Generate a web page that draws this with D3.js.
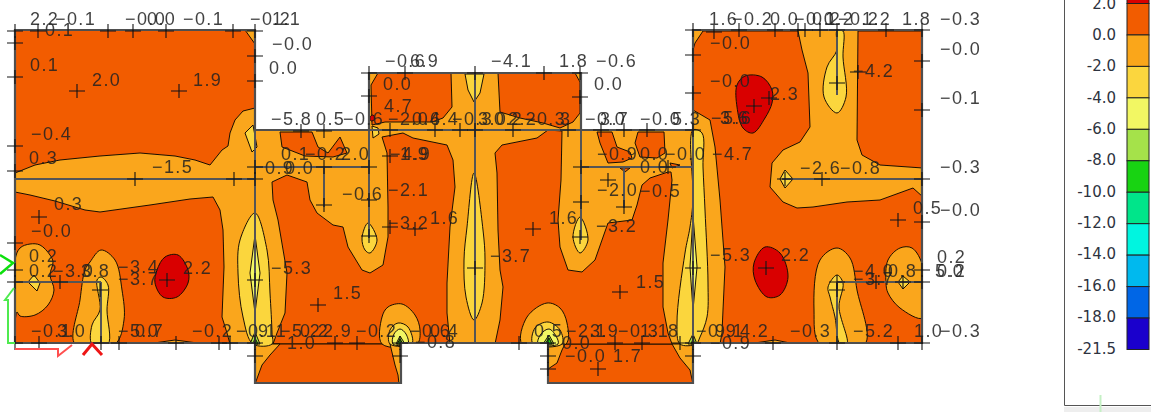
<!DOCTYPE html>
<html><head><meta charset="utf-8">
<script src="https://cdn.jsdelivr.net/npm/d3@7/dist/d3.min.js"></script>
<style>html,body{margin:0;padding:0;background:#fff;overflow:hidden}svg{display:block}</style>
</head><body><svg id="c" width="1151" height="412"></svg>
<script>
const legendLabels=["2.0","0.0","-2.0","-4.0","-6.0","-8.0","-10.0","-12.0","-14.0","-16.0","-18.0","-21.5"];
const legendColors=["#f25c00","#faa61a","#fbd63e","#f2f763","#a5e24a","#18d312","#00e58a","#00f5e0","#00b9ee","#0066e6","#1a00cc"];
const cRed="#d90000",cHigh="#f25c00",cBase="#faa61a",cYel="#fbd63e",cPale="#f2f763",cLime="#a5e24a",cGreen="#18d312";

const slabOutline=[[15,30],[255,30],[255,130],[369,130],[369,73],[581,73],[581,130],[693,130],[693,30],[922,30],[922,343],[693,343],[693,383],[548,383],[548,343],[401,343],[401,383],[255,383],[255,343],[15,343]];

const highLeftTop=[[15,30],[245,30],[255,44],[255,108],[243,111],[235,120],[230,133],[228,146],[222,150],[210,165],[195,160],[175,156],[140,153],[100,156],[60,160],[35,165],[15,173]];
const highLeftLow=[[15,192],[30,195],[55,201],[85,210],[100,212],[150,205],[190,199],[213,197],[220,210],[223,230],[224,267],[222,317],[227,333],[230,344],[15,344]];
const highCenterLeft=[[272,182],[287,175],[307,182],[310,200],[317,213],[333,225],[343,227],[348,247],[362,270],[370,273],[383,265],[388,237],[388,207],[387,153],[382,137],[403,133],[413,138],[447,145],[453,160],[455,187],[450,227],[447,283],[447,313],[450,344],[273,344],[277,333],[285,313],[287,273],[278,220],[273,200]];
const highStubLeft=[[255,344],[401,344],[401,384],[255,384]];
const highStubRight=[[548,344],[693,344],[693,384],[548,384]];
const highCenterRight=[[495,153],[502,145],[537,138],[548,130],[562,131],[561,180],[558,220],[560,247],[568,270],[582,272],[595,260],[602,240],[608,223],[632,220],[637,205],[642,185],[650,178],[668,172],[671,172],[672,180],[668,220],[663,263],[663,307],[668,333],[672,344],[495,344],[500,320],[503,287],[500,270],[498,230],[497,173]];
const highCTopLeft=[[378,73],[451,73],[452,107],[443,118],[432,122],[410,122],[385,122],[372,125],[371,85]];
const highCTopRight=[[498,73],[575,73],[580,82],[580,113],[573,122],[560,128],[543,123],[520,118],[500,112]];
const highTopLeftPatch=[[280,132],[312,132],[318,147],[328,153],[340,137],[347,153],[333,157],[305,156],[282,147]];
const highTopRightPatch1=[[597,132],[612,132],[617,147],[630,152],[632,158],[623,162],[608,163],[600,143]];
const highTopRightPatch2=[[638,132],[664,132],[665,153],[657,158],[640,157],[635,143]];
const highSmallA=[[620,168],[625,172],[630,168]];
const highSmallB=[[670,163],[680,165],[672,168]];
const highRightLeft=[[695,43],[703,31],[798,31],[802,50],[808,73],[810,127],[800,142],[783,150],[772,163],[770,187],[783,202],[797,208],[813,207],[847,202],[880,200],[913,188],[923,197],[923,344],[720,344],[722,333],[723,310],[725,267],[720,200],[715,147],[710,120],[693,110],[693,50]];
const highRightTop=[[858,31],[857,140],[862,155],[880,165],[923,168],[923,31]];

const baseLeftIsland1=[[15,260],[20,248],[30,244],[40,245],[50,255],[53,262],[50,275],[54,290],[48,305],[35,315],[20,316],[17,312],[15,320]];
const baseLeftIsland2=[[75,344],[80,300],[85,270],[90,262],[101,250],[115,260],[122,290],[124,320],[115,344]];
const baseBottomSliverA=[[147,344],[175,340],[205,344]];
const baseBottomSliverB=[[748,344],[775,340],[795,344]];
const baseBumpLeft=[[382,344],[382,317],[388,307],[402,304],[415,315],[420,330],[417,344]];
const baseBumpRight=[[522,344],[527,317],[547,303],[560,308],[567,323],[566,344]];
const baseWedgeA=[[390,344],[395,365],[398,375],[399,384],[401,384],[401,344]];
const baseWedgeB=[[255,384],[262,365],[270,355],[280,344],[255,344]];
const baseWedgeC=[[548,344],[565,344],[562,350],[557,363],[548,369]];
const baseWedgeD=[[672,344],[680,358],[690,370],[693,384],[693,344]];
const baseRightIsland1=[[820,344],[814,310],[820,260],[837,248],[850,258],[857,290],[865,344]];
const baseRightIsland2=[[886,283],[888,260],[900,248],[912,248],[923,267],[923,318],[900,308],[888,293]];

const redLeft=[[157,270],[165,257],[178,255],[188,270],[188,283],[177,297],[163,297],[155,283]];
const redUp=[[737,85],[745,76],[762,77],[772,90],[772,103],[765,118],[753,133],[743,128],[737,107]];
const redDown=[[754,263],[765,247],[780,253],[788,277],[780,295],[767,297],[755,280]];
const redSpot=[[370,117],[373,115],[375,119],[371,121]];

const yelDiamondL=[[28,282],[34,275],[40,283],[37,291]];
const yelLeft=[[97,280],[101,277],[108,285],[107,310],[108,344],[92,344],[92,325],[100,310]];
const yelLens255=[[255,213],[240,240],[238,273],[243,317],[253,344],[272,344],[272,333],[270,293],[267,250]];
const yelCorner255=[[245,133],[253,125],[257,147],[252,152]];
const yel369=[[368,223],[362,238],[365,250],[370,253],[377,240]];
const yel581=[[580,217],[573,237],[580,253],[588,240]];
const yelCenterTop=[[465,74],[484,74],[480,93],[474,102],[468,90]];
const yelCenterLow=[[474,173],[467,227],[464,260],[466,297],[474,320],[482,303],[485,260],[483,230]];
const yelLens693=[[693,130],[702,133],[703,167],[705,210],[708,283],[707,317],[700,337],[696,344],[680,344],[677,323],[685,253],[690,227],[693,200]];
const yelUpperRight=[[843,31],[843,57],[846,97],[837,113],[824,97],[827,67],[837,50],[837,31]];
const yelDiamondR1=[[780,179],[785,170],[793,179],[785,188]];
const yelRightLow=[[828,287],[837,275],[843,283],[839,307],[847,344],[840,344],[835,317],[830,297]];
const yelDiamondR2=[[898,282],[903,276],[910,282],[903,289]];
const yelSpotA=[[390,344],[390,330],[398,323],[408,327],[412,344]];
const yelSpotB=[[533,344],[535,328],[548,322],[560,330],[562,344]];
const yelSpotC=[[372,126],[378,128],[379,134],[373,138]];

const paleLens255=[[255,235],[250,273],[255,313],[260,273]];
const paleLens693=[[693,215],[690,267],[693,310],[697,267]];
const paleSpotA=[[393,344],[394,334],[400,329],[406,334],[408,344]];
const paleSpotB=[[538,344],[541,334],[549,329],[556,336],[558,344]];
const limeSpotA=[[396,344],[400,336],[405,344]];
const limeSpotB=[[543,344],[549,335],[554,344]];
const limeSpotC=[[250,344],[255,332],[260,344]];
const limeSpotD=[[688,344],[693,334],[697,344]];
const greenSpotA=[[397,344],[400,339],[403,344]];
const greenSpotB=[[545,344],[549,338],[552,344]];
const greenSpotC=[[253,344],[255,338],[258,344]];
const greenSpotD=[[691,344],[693,339],[695,344]];

const beamLines=[[[15,179],[255,179]],[[255,167],[369,167]],[[369,130],[693,130]],[[581,167],[693,167]],[[782,179],[922,179]],[[255,130],[255,383]],[[369,73],[369,238]],[[475,73],[475,343]],[[581,73],[581,240]],[[693,30],[693,383]],[[15,282],[101,282]],[[101,282],[101,343]],[[837,282],[922,282]],[[837,282],[837,343]],[[837,30],[837,95]],[[324,167],[324,207]],[[624,167],[624,208]]];

const crossPoints=[[15,31],[38,31],[108,31],[133,31],[166,31],[233,31],[255,31],[15,43],[15,77],[77,91],[179,91],[15,146],[15,171],[135,179],[234,179],[255,179],[255,56],[255,81],[369,73],[369,96],[301,131],[324,131],[255,167],[324,167],[324,205],[369,200],[39,217],[15,243],[15,270],[15,282],[60,282],[100,290],[167,280],[255,280],[318,305],[39,343],[15,343],[101,343],[119,343],[176,343],[219,343],[230,343],[255,343],[255,356],[335,343],[357,343],[369,236],[405,73],[475,73],[544,73],[580,73],[580,97],[390,130],[435,130],[460,130],[475,130],[513,130],[568,130],[601,130],[624,130],[647,130],[693,55],[693,93],[693,130],[581,167],[581,202],[668,167],[608,180],[624,207],[390,156],[369,167],[390,227],[415,229],[533,229],[580,237],[475,268],[693,268],[620,292],[519,343],[400,343],[400,356],[548,343],[548,356],[548,369],[598,369],[615,343],[642,343],[680,343],[693,356],[693,30],[714,32],[739,30],[775,30],[798,30],[805,30],[820,30],[837,30],[886,30],[922,30],[922,61],[922,110],[858,72],[754,106],[837,83],[785,179],[822,179],[922,179],[769,98],[898,220],[922,222],[766,268],[922,270],[837,282],[837,290],[876,282],[903,282],[922,282],[773,343],[837,343],[898,343],[922,343],[693,343]];

const labelTexts=["2.2","−0.1","−0.0","0.0","−0.1","−0.2","1.1","0.1","0.1","2.0","1.9","−0.0","0.0","−0.4","0.3","−1.5","0.3","−5.8","0.5","−0.6","0.1","−0.2","2.0","0.9","0.0","−0.6","−0.0","0.2","0.2","−3.0","3.8","−3.4","−3.7","2.2","−5.3","1.5","−0.1","3.0","−5.0","0.7","−0.2","−0.1","9.1","−5.2","0.2","2.9","−0.2","1.0","−0.6","6.9","−4.1","1.8","−0.6","0.0","0.0","4.7","−2.0","0.4","6.4","−0.3","3.0","0.2","2.2","−0.3","3","−0.0","3.7","−0.0","5.3","−4.9","1.9","−2.1","−3.2","1.6","−0.9","0.0","−0.0","0.0","−2.0","−0.5","1.6","−3.2","−3.7","1.5","−0.6","0.4","0.5","−2.1","3.9","−0.3","1.1","8","−0.8","0.0","−0.0","1.7","1.6","−0.2","0.0","−0.0","0.2","1.2","−0.2","1.2","1.8","−0.3","−0.0","−0.0","−4.2","−0.0","2.3","−0.1","−5.6","3.6","−4.7","−2.6","−0.8","−0.3","0.5","−0.0","−5.3","2.2","−4.0","−3.7","0.8","0.2","0.2","5.0","−0.9","9.1","4.2","−0.3","−5.2","1.0","−0.3","−0.9"];
const labelX=[30,55,125,147,183,250,272,45,30,92,193,272,269,31,29,152,54,271,316,343,281,305,341,265,285,342,31,29,29,53,81,118,118,183,271,333,31,57,118,135,192,236,258,280,300,323,356,287,385,410,491,559,596,383,594,384,388,412,430,452,478,494,508,525,560,585,600,640,672,390,400,388,388,430,597,640,665,640,597,640,549,596,490,636,410,430,534,566,590,618,640,668,415,562,565,613,709,732,770,794,812,825,838,862,902,940,710,940,853,710,770,940,711,720,712,800,840,940,913,940,710,781,853,853,888,937,937,935,696,715,740,790,853,914,940,710];
const labelY=[25,25,25,25,25,25,25,36,71,86,86,50,74,140,164,173,210,125,125,125,160,160,160,174,174,200,237,262,277,277,277,273,285,274,274,299,337,337,337,337,337,337,337,337,337,337,337,349,67,67,67,67,67,90,90,112,125,125,125,125,125,125,125,125,125,125,125,125,125,160,160,196,229,224,160,160,160,173,196,197,224,232,262,288,337,337,337,337,337,337,337,337,348,349,362,362,25,25,25,25,25,25,25,25,25,25,49,55,77,87,100,104,124,124,160,174,174,173,214,216,261,261,277,285,277,263,277,277,337,337,337,337,337,337,337,349];

const planX=d3.scaleLinear().domain([15,922]).range([15,922]);
const planY=d3.scaleLinear().domain([30,383]).range([30,383]);
const legendY=d3.scaleLinear().domain([0,11]).range([3.5,349.5]);
const legendText=d3.scaleLinear().domain([0,11]).range([3,348]);
const line=d3.line().x(d=>planX(d[0])).y(d=>planY(d[1])).curve(d3.curveLinearClosed);
const smooth=d3.line().x(d=>planX(d[0])).y(d=>planY(d[1])).curve(d3.curveCatmullRomClosed.alpha(0.5));
const svg=d3.select("#c");

const layers=[
 [cHigh,[highLeftTop,highLeftLow,highCenterLeft,highStubLeft,highStubRight,highCenterRight,highCTopLeft,highCTopRight,highTopLeftPatch,highTopRightPatch1,highTopRightPatch2,highSmallA,highSmallB,highRightLeft,highRightTop],line],
 [cBase,[baseLeftIsland1,baseLeftIsland2,baseBumpLeft,baseBumpRight,baseRightIsland1,baseRightIsland2],smooth],
 [cBase,[baseBottomSliverA,baseBottomSliverB,baseWedgeA,baseWedgeB,baseWedgeC,baseWedgeD],line],
 [cRed,[redLeft,redUp,redDown,redSpot],smooth],
 [cYel,[yelLens255,yelCenterLow,yelLens693,yelUpperRight,yelSpotA,yelSpotB,yel369,yel581,yelRightLow,yelLeft],smooth],
 [cYel,[yelDiamondL,yelCorner255,yelCenterTop,yelDiamondR1,yelDiamondR2,yelSpotC],line],
 [cPale,[paleLens255,paleLens693],line],
 [cPale,[paleSpotA,paleSpotB],smooth],
 [cLime,[limeSpotA,limeSpotB,limeSpotC,limeSpotD],line],
 [cGreen,[greenSpotA,greenSpotB,greenSpotC,greenSpotD],line]
];

const defs=svg.append("defs");
defs.append("clipPath").attr("id","slab").append("path").attr("d",line(slabOutline));
defs.append("filter").attr("id","soft").append("feGaussianBlur").attr("stdDeviation",0.4);

const g=svg.append("g").attr("filter","url(#soft)");
const plot=g.append("g").attr("clip-path","url(#slab)");
plot.append("path").attr("d",line(slabOutline)).attr("fill",cBase);
layers.forEach(([color,polys,gen])=>{
  plot.selectAll(null).data(polys).join("path").attr("d",gen).attr("fill",color).attr("stroke","#1a1005").attr("stroke-width",1);
});
g.selectAll(null).data(beamLines).join("line")
 .attr("x1",d=>planX(d[0][0])).attr("y1",d=>planY(d[0][1])).attr("x2",d=>planX(d[1][0])).attr("y2",d=>planY(d[1][1]))
 .attr("stroke","#555").attr("stroke-width",2);
g.append("path").attr("d",line(slabOutline)).attr("fill","none").attr("stroke","#505050").attr("stroke-width",2.2);

const cr=g.append("g").attr("stroke","#111").attr("stroke-width",1.1).attr("fill","none");
cr.selectAll(null).data(crossPoints).join("path")
 .attr("d",d=>{const x=planX(d[0]),y=planY(d[1]);return `M${x-8},${y}H${x+8}M${x},${y-7}V${y+7}`});

g.append("g").selectAll("text").data(labelTexts).join("text")
 .attr("x",(d,i)=>planX(labelX[i])).attr("y",(d,i)=>planY(labelY[i])).text(d=>d)
 .attr("font-family","'Liberation Sans',sans-serif").attr("font-size",18).attr("letter-spacing",1.4)
 .attr("fill","#222").attr("fill-opacity",.85);

const arrows=[["#10e010",[[0,255],[13,263],[0,274]],2.5],["#50ea50",[[14,288],[5,300],[8,300],[8,343],[15,343]],2],["#ff5050",[[15,349],[58,349],[58,356],[72,345]],2],["#ee1818",[[83,355],[92,344],[102,355]],3]];
arrows.forEach(([col,pts,w])=>{
  g.append("path").attr("d",d3.line().x(d=>planX(d[0])).y(d=>planY(d[1]))(pts)).attr("fill","none").attr("stroke",col).attr("stroke-width",w);
});

const lg=svg.append("g");
lg.append("rect").attr("x",1127).attr("y",-10).attr("width",22).attr("height",legendY(0)+10).attr("fill",cRed).attr("stroke","#222").attr("stroke-width",1);
lg.selectAll("rect.sw").data(legendColors).join("rect").attr("class","sw")
 .attr("x",1127).attr("width",22).attr("y",(d,i)=>legendY(i)).attr("height",(d,i)=>legendY(i+1)-legendY(i))
 .attr("fill",d=>d).attr("stroke","#222").attr("stroke-width",1);
lg.selectAll("text").data(legendLabels).join("text")
 .attr("x",1116).attr("text-anchor","end").attr("y",(d,i)=>legendText(i)+5.5).text(d=>d)
 .attr("font-family","'DejaVu Sans',sans-serif").attr("font-size",15).attr("fill","#2d3340");
lg.append("path").attr("d","M1064.5,0V405.5H1151").attr("fill","none").attr("stroke","#555").attr("stroke-width",1);
lg.append("rect").attr("x",1064).attr("y",407).attr("width",87).attr("height",5).attr("fill","#eeeeee");
lg.append("line").attr("x1",1100.5).attr("x2",1100.5).attr("y1",395).attr("y2",412).attr("stroke","#c4f0c4").attr("stroke-width",2);
</script></body></html>
